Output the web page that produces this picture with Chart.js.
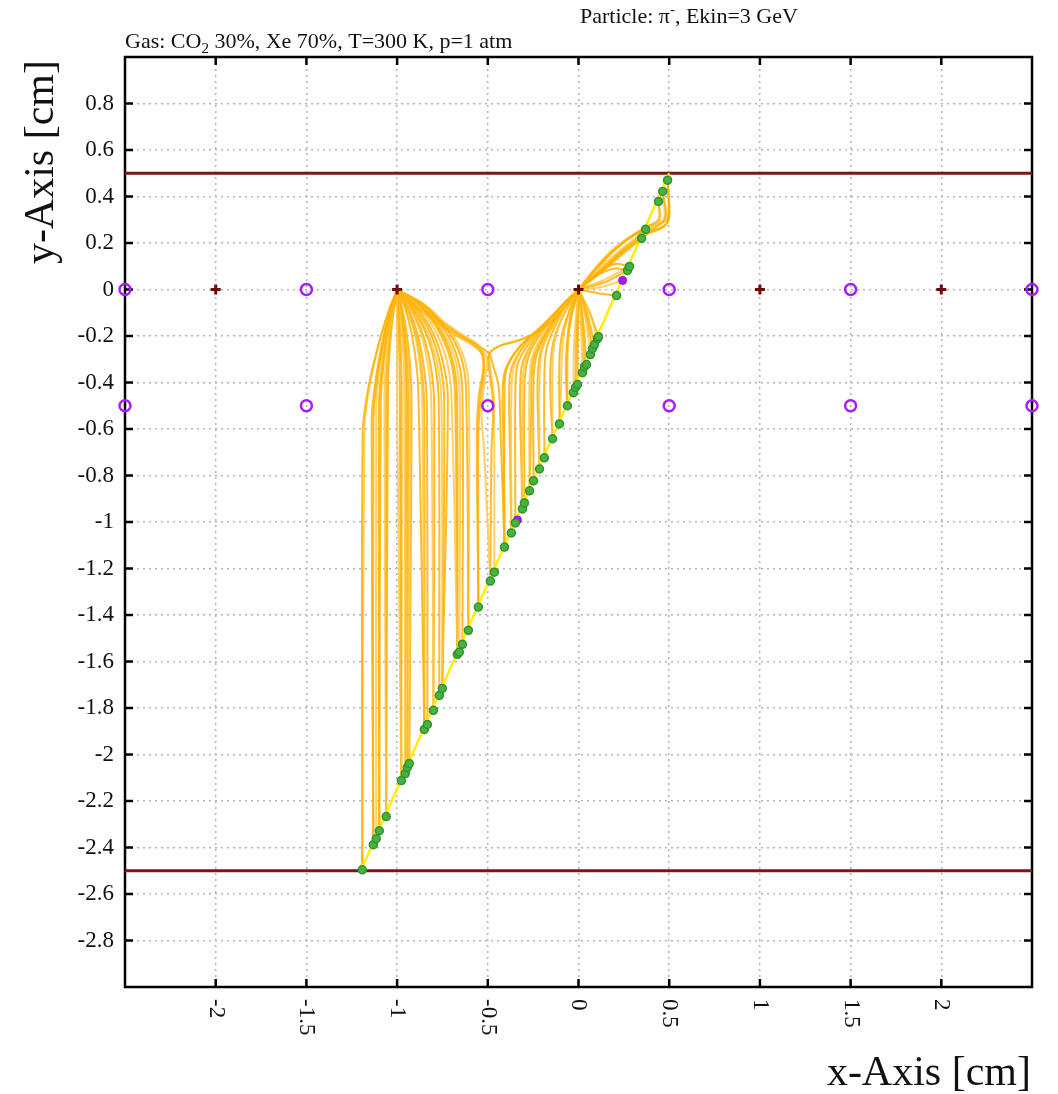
<!DOCTYPE html>
<html>
<head>
<meta charset="utf-8">
<script src="https://cdn.jsdelivr.net/npm/chart.js@4"></script>
<style>
    body { margin: 0; background: #fff; }
    canvas { display: block; }
</style>
</head>
<body>
<canvas id="chart" width="1058" height="1094"></canvas>
<script>

// data

const xTickValues = [-2, -1.5, -1, -0.5, 0, 0.5, 1, 1.5, 2];
const xTickLabels = ['-2', '-1.5', '-1', '-0.5', '0', '0.5', '1', '1.5', '2'];
const yTickValues = [0.8, 0.6, 0.4, 0.2, 0, -0.2, -0.4, -0.6, -0.8, -1, -1.2, -1.4, -1.6, -1.8, -2, -2.2, -2.4, -2.6, -2.8];
const yTickLabels = ['0.8', '0.6', '0.4', '0.2', '0', '-0.2', '-0.4', '-0.6', '-0.8', '-1', '-1.2', '-1.4', '-1.6', '-1.8', '-2', '-2.2', '-2.4', '-2.6', '-2.8'];

// electrodes
const planeY = [0.5, -2.5];
const anodeX = [-2, -1, 0, 1, 2];
const anodeY = [0, 0, 0, 0, 0];
const cathodeX = [-2.5, -1.5, -0.5, 0.5, 1.5, 2.5, -2.5, -1.5, -0.5, 0.5, 1.5, 2.5];
const cathodeY = [0, 0, 0, 0, 0, 0, -0.5, -0.5, -0.5, -0.5, -0.5, -0.5];

// particle track
const trackX = [-1.2, 0.5];
const trackY = [-2.5, 0.5];

// ionisation clusters along the track
const clusterX = [-1.192, -1.131, -1.115, -1.098, -1.06, -0.977, -0.955, -0.944, -0.933, -0.85, -0.833, -0.8, -0.767, -0.751,
    -0.668, -0.657, -0.64, -0.607, -0.552, -0.486, -0.464, -0.408, -0.37, -0.348, -0.309, -0.298, -0.27, -0.248, -0.215,
    -0.188, -0.143, -0.105, -0.061, -0.028, -0.017, -0.006, 0.022, 0.033, 0.044, 0.066, 0.077, 0.088, 0.105, 0.11,
    0.21, 0.27, 0.281, 0.348, 0.37, 0.441, 0.464, 0.491];
const clusterY = [-2.496, -2.388, -2.362, -2.328, -2.267, -2.112, -2.082, -2.056, -2.039, -1.892, -1.871, -1.81, -1.746, -1.716,
    -1.569, -1.56, -1.526, -1.466, -1.366, -1.254, -1.216, -1.108, -1.047, -1.004, -0.944, -0.918, -0.866, -0.823, -0.772,
    -0.724, -0.642, -0.578, -0.5, -0.444, -0.422, -0.409, -0.358, -0.332, -0.323, -0.28, -0.254, -0.237, -0.211, -0.203,
    -0.026, 0.082, 0.099, 0.22, 0.259, 0.379, 0.422, 0.47];
const deltaX = [-0.337, 0.243];
const deltaY = [-0.991, 0.039];

// electron drift lines ending on the wire at x=-1
const driftToWireA = [
    [[-1.192,-2.496],[-1.19,-0.62],[-1.165,-0.45],[-1.13,-0.32],[-1.09,-0.2],[-1.045,-0.09],[-1,0]],
    [[-1.192,-2.496],[-1.18,-0.6],[-1.155,-0.43],[-1.12,-0.3],[-1.08,-0.18],[-1.04,-0.08],[-1,0]],
    [[-1.131,-2.388],[-1.14,-0.56],[-1.12,-0.4],[-1.095,-0.28],[-1.065,-0.17],[-1.03,-0.07],[-1,0]],
    [[-1.131,-2.388],[-1.13,-0.55],[-1.11,-0.38],[-1.085,-0.26],[-1.06,-0.16],[-1.03,-0.07],[-1,0]],
    [[-1.115,-2.362],[-1.115,-0.52],[-1.1,-0.36],[-1.075,-0.24],[-1.05,-0.14],[-1.025,-0.06],[-1,0]],
    [[-1.098,-2.328],[-1.1,-0.5],[-1.085,-0.34],[-1.065,-0.23],[-1.045,-0.13],[-1,0]],
    [[-1.098,-2.328],[-1.09,-0.48],[-1.075,-0.32],[-1.055,-0.2],[-1.03,-0.1],[-1,0]],
    [[-1.06,-2.267],[-1.07,-0.45],[-1.06,-0.3],[-1.04,-0.17],[-1.02,-0.08],[-1,0]],
    [[-1.06,-2.267],[-1.06,-0.42],[-1.05,-0.28],[-1.035,-0.16],[-1,0]],
    [[-1.06,-2.267],[-1.05,-0.4],[-1.04,-0.25],[-1.025,-0.13],[-1,0]],
    [[-0.977,-2.112],[-1.0,-0.5],[-1,0]],
    [[-0.977,-2.112],[-0.985,-0.45],[-0.99,-0.2],[-1,0]],
    [[-0.977,-2.112],[-0.975,-0.45],[-0.98,-0.25],[-0.99,-0.1],[-1,0]],
    [[-0.955,-2.082],[-0.96,-0.45],[-0.965,-0.28],[-0.98,-0.12],[-1,0]],
    [[-0.955,-2.082],[-0.95,-0.45],[-0.955,-0.3],[-0.97,-0.15],[-0.988,-0.05],[-1,0]],
    [[-0.944,-2.056],[-0.94,-0.47],[-0.947,-0.3],[-0.965,-0.15],[-0.985,-0.05],[-1,0]],
    [[-0.933,-2.039],[-0.93,-0.48],[-0.937,-0.32],[-0.955,-0.17],[-0.98,-0.06],[-1,0]],
    [[-0.933,-2.039],[-0.92,-0.5],[-0.928,-0.33],[-0.95,-0.17],[-0.978,-0.06],[-1,0]],
    [[-0.85,-1.892],[-0.88,-0.52],[-0.89,-0.35],[-0.92,-0.19],[-0.96,-0.07],[-1,0]],
    [[-0.85,-1.892],[-0.86,-0.53],[-0.87,-0.36],[-0.9,-0.2],[-0.95,-0.08],[-1,0]],
    [[-0.85,-1.892],[-0.85,-0.53],[-0.862,-0.36],[-0.895,-0.2],[-0.945,-0.08],[-1,0]],
    [[-0.833,-1.871],[-0.835,-0.53],[-0.848,-0.36],[-0.885,-0.2],[-0.94,-0.08],[-1,0]],
    [[-0.8,-1.81],[-0.81,-0.52],[-0.823,-0.36],[-0.865,-0.2],[-0.93,-0.08],[-1,0]],
    [[-0.8,-1.81],[-0.795,-0.52],[-0.81,-0.35],[-0.855,-0.2],[-0.925,-0.08],[-1,0]],
    [[-0.767,-1.746],[-0.77,-0.5],[-0.787,-0.34],[-0.835,-0.2],[-0.915,-0.08],[-1,0]],
    [[-0.751,-1.716],[-0.755,-0.5],[-0.773,-0.34],[-0.825,-0.2],[-0.91,-0.08],[-1,0]],
    [[-0.751,-1.716],[-0.74,-0.49],[-0.76,-0.33],[-0.815,-0.19],[-0.905,-0.075],[-1,0]],
    [[-0.751,-1.716],[-0.72,-0.48],[-0.742,-0.33],[-0.8,-0.19],[-0.895,-0.075],[-1,0]],
    [[-0.668,-1.569],[-0.7,-0.47],[-0.722,-0.32],[-0.785,-0.185],[-0.885,-0.07],[-1,0]],
    [[-0.668,-1.569],[-0.68,-0.46],[-0.703,-0.31],[-0.77,-0.18],[-0.875,-0.07],[-1,0]],
    [[-0.668,-1.569],[-0.67,-0.45],[-0.695,-0.3],[-0.762,-0.175],[-0.87,-0.068],[-1,0]],
    [[-0.657,-1.56],[-0.655,-0.45],[-0.68,-0.3],[-0.752,-0.175],[-0.865,-0.068],[-1,0]],
    [[-0.64,-1.526],[-0.64,-0.44],[-0.667,-0.295],[-0.742,-0.17],[-0.86,-0.066],[-1,0]],
    [[-0.607,-1.466],[-0.62,-0.43],[-0.648,-0.29],[-0.728,-0.168],[-0.855,-0.065],[-1,0]],
    [[-0.607,-1.466],[-0.605,-0.42],[-0.635,-0.285],[-0.72,-0.165],[-0.85,-0.064],[-1,0]],
    [[-0.552,-1.366],[-0.552,-0.62],[-0.54,-0.46],[-0.52,-0.34],[-0.53,-0.27],[-0.58,-0.23],[-0.67,-0.19],[-0.78,-0.13],[-0.9,-0.06],[-1,0]],
    [[-0.552,-1.366],[-0.56,-0.62],[-0.55,-0.46],[-0.525,-0.34],[-0.535,-0.275],[-0.59,-0.235],[-0.68,-0.195],[-0.79,-0.135],[-0.91,-0.065],[-1,0]],
    [[-0.486,-1.254],[-0.52,-0.7],[-0.535,-0.52],[-0.515,-0.38],[-0.505,-0.3],[-0.55,-0.24],[-0.65,-0.19],[-0.77,-0.125],[-0.9,-0.055],[-1,0]],
    [[-0.408,-1.108],[-0.43,-0.6],[-0.44,-0.42],[-0.47,-0.33],[-0.49,-0.28],[-0.535,-0.25],[-0.62,-0.21],[-0.75,-0.14],[-0.89,-0.06],[-1,0]]
];

// electron drift lines ending on the wire at x=0
const driftToWireB = [
    [[-0.486,-1.254],[-0.48,-0.7],[-0.47,-0.5],[-0.49,-0.36],[-0.495,-0.28],[-0.44,-0.245],[-0.33,-0.22],[-0.2,-0.17],[-0.08,-0.08],[0,0]],
    [[-0.464,-1.216],[-0.465,-0.6],[-0.468,-0.45],[-0.485,-0.34],[-0.49,-0.275],[-0.43,-0.24],[-0.32,-0.215],[-0.19,-0.165],[-0.08,-0.075],[0,0]],
    [[-0.408,-1.108],[-0.408,-0.46],[-0.395,-0.34],[-0.32,-0.245],[-0.19,-0.15],[-0.08,-0.06],[0,0]],
    [[-0.408,-1.108],[-0.415,-0.6],[-0.418,-0.46],[-0.405,-0.35],[-0.33,-0.25],[-0.2,-0.155],[-0.085,-0.065],[0,0]],
    [[-0.37,-1.047],[-0.37,-0.45],[-0.355,-0.33],[-0.29,-0.235],[-0.17,-0.14],[-0.07,-0.05],[0,0]],
    [[-0.37,-1.047],[-0.38,-0.6],[-0.382,-0.45],[-0.37,-0.34],[-0.3,-0.24],[-0.18,-0.145],[-0.075,-0.055],[0,0]],
    [[-0.348,-1.004],[-0.348,-0.44],[-0.335,-0.32],[-0.27,-0.23],[-0.16,-0.13],[-0.06,-0.05],[0,0]],
    [[-0.309,-0.944],[-0.309,-0.43],[-0.295,-0.31],[-0.24,-0.22],[-0.14,-0.12],[0,0]],
    [[-0.309,-0.944],[-0.32,-0.6],[-0.322,-0.44],[-0.31,-0.32],[-0.25,-0.225],[-0.145,-0.125],[0,0]],
    [[-0.298,-0.918],[-0.298,-0.42],[-0.28,-0.3],[-0.225,-0.21],[-0.13,-0.11],[0,0]],
    [[-0.27,-0.866],[-0.27,-0.4],[-0.255,-0.29],[-0.2,-0.2],[-0.11,-0.1],[0,0]],
    [[-0.27,-0.866],[-0.26,-0.5],[-0.26,-0.4],[-0.245,-0.29],[-0.19,-0.2],[-0.105,-0.1],[0,0]],
    [[-0.248,-0.823],[-0.248,-0.39],[-0.23,-0.28],[-0.18,-0.19],[-0.1,-0.09],[0,0]],
    [[-0.215,-0.772],[-0.215,-0.37],[-0.2,-0.26],[-0.15,-0.17],[-0.08,-0.08],[0,0]],
    [[-0.215,-0.772],[-0.225,-0.5],[-0.225,-0.38],[-0.21,-0.27],[-0.16,-0.18],[-0.085,-0.085],[0,0]],
    [[-0.188,-0.724],[-0.188,-0.36],[-0.175,-0.25],[-0.13,-0.16],[-0.07,-0.07],[0,0]],
    [[-0.143,-0.642],[-0.143,-0.33],[-0.13,-0.22],[-0.09,-0.12],[0,0]],
    [[-0.143,-0.642],[-0.155,-0.45],[-0.155,-0.34],[-0.14,-0.23],[-0.095,-0.13],[0,0]],
    [[-0.105,-0.578],[-0.105,-0.3],[-0.09,-0.19],[-0.05,-0.09],[0,0]],
    [[-0.105,-0.578],[-0.095,-0.4],[-0.092,-0.3],[-0.078,-0.18],[-0.043,-0.085],[0,0]],
    [[-0.061,-0.5],[-0.06,-0.27],[-0.045,-0.14],[0,0]],
    [[-0.061,-0.5],[-0.07,-0.35],[-0.065,-0.25],[-0.048,-0.13],[0,0]],
    [[-0.028,-0.444],[-0.025,-0.24],[-0.012,-0.1],[0,0]],
    [[-0.017,-0.422],[-0.012,-0.2],[0,0]],
    [[-0.006,-0.409],[-0.004,-0.2],[0,0]],
    [[0.022,-0.358],[0.015,-0.18],[0,0]],
    [[0.033,-0.332],[0.022,-0.16],[0,0]],
    [[0.044,-0.323],[0.028,-0.15],[0,0]],
    [[0.066,-0.28],[0.04,-0.13],[0,0]],
    [[0.077,-0.254],[0.045,-0.12],[0,0]],
    [[0.088,-0.237],[0.05,-0.11],[0,0]],
    [[0.105,-0.211],[0.06,-0.1],[0,0]],
    [[0.11,-0.203],[0.06,-0.095],[0,0]],
    [[0.21,-0.026],[0.1,-0.015],[0,0]],
    [[0.243,0.039],[0.12,0.01],[0,0]],
    [[0.27,0.082],[0.14,0.03],[0,0]],
    [[0.27,0.082],[0.2,0.09],[0.1,0.06],[0,0]],
    [[0.281,0.099],[0.15,0.045],[0,0]],
    [[0.281,0.099],[0.2,0.11],[0.1,0.07],[0,0]],
    [[0.348,0.22],[0.24,0.15],[0.12,0.07],[0,0]],
    [[0.348,0.22],[0.3,0.21],[0.2,0.15],[0.1,0.08],[0,0]],
    [[0.37,0.259],[0.26,0.18],[0.13,0.085],[0,0]],
    [[0.37,0.259],[0.3,0.23],[0.2,0.17],[0.1,0.09],[0,0]],
    [[0.441,0.379],[0.45,0.3],[0.38,0.25],[0.25,0.175],[0.12,0.085],[0,0]],
    [[0.441,0.379],[0.44,0.3],[0.36,0.265],[0.24,0.2],[0.12,0.11],[0,0]],
    [[0.464,0.422],[0.48,0.31],[0.42,0.265],[0.28,0.19],[0.13,0.09],[0,0]],
    [[0.464,0.422],[0.47,0.3],[0.4,0.275],[0.27,0.215],[0.13,0.12],[0,0]],
    [[0.491,0.47],[0.5,0.33],[0.485,0.28],[0.4,0.25],[0.27,0.18],[0.12,0.08],[0,0]],
    [[0.491,0.47],[0.495,0.32],[0.47,0.27],[0.37,0.235],[0.24,0.16],[0.11,0.07],[0,0]],
    [[0.491,0.47],[0.5,0.31],[0.46,0.285],[0.34,0.25],[0.2,0.18],[0.1,0.1],[0,0]]
];

// style

const serif = '"Liberation Serif", "DejaVu Serif", serif';

const toPoints = (xs, ys) => xs.map((x, i) => ({x, y: ys[i]}));

// datasets

function buildDatasets(){
    let drift = driftToWireA.concat(driftToWireB).map((path, i) => ({
        data: path.map(([x, y]) => ({x, y})),
        showLine: true,
        pointRadius: 0,
        borderColor: i % 3 === 1 ? 'rgba(255,196,60,0.8)' : 'rgba(255,176,0,0.85)',
        borderWidth: 2,
        tension: 0.35,
        order: 5
    }));

    let planes = planeY.map(y => ({
        data: [{x: -2.5, y}, {x: 2.5, y}],
        showLine: true,
        pointRadius: 0,
        borderColor: '#7d1515',
        borderWidth: 3,
        order: 6
    }));

    return [
        ...planes,
        ...drift,
        {
            data: toPoints(trackX, trackY),
            showLine: true,
            pointRadius: 0,
            borderColor: '#ffee00',
            borderWidth: 2.5,
            order: 4
        },
        {
            data: toPoints(anodeX, anodeY),
            pointStyle: 'cross',
            pointRadius: 5,
            borderColor: '#6e0a0a',
            borderWidth: 3,
            clip: false,
            order: 2
        },
        {
            data: toPoints(cathodeX, cathodeY),
            pointStyle: 'circle',
            pointRadius: 5.5,
            borderColor: '#a81cff',
            backgroundColor: 'rgba(0,0,0,0)',
            borderWidth: 2.5,
            clip: false,
            order: 2
        },
        {
            data: toPoints(clusterX, clusterY),
            pointRadius: 4,
            backgroundColor: '#47b240',
            borderColor: '#2f9430',
            borderWidth: 1.5,
            order: 1
        },
        {
            data: toPoints(deltaX, deltaY),
            pointRadius: 4,
            backgroundColor: '#9a1ff0',
            borderColor: '#8a10e0',
            borderWidth: 1,
            order: 1
        }
    ];
}

// frame, inward ticks, rotated x labels and titles

const framePlugin = {
    id: 'frame',
    beforeDatasetsDraw(chart){
        const {ctx, chartArea: a, scales} = chart;
        ctx.save();
        ctx.strokeStyle = '#000';
        ctx.lineWidth = 2.5;
        ctx.beginPath();
        xTickValues.forEach(v => {
            let px = scales.x.getPixelForValue(v);
            ctx.moveTo(px, a.bottom); ctx.lineTo(px, a.bottom - 8);
            ctx.moveTo(px, a.top); ctx.lineTo(px, a.top + 8);
        });
        yTickValues.forEach(v => {
            let py = scales.y.getPixelForValue(v);
            ctx.moveTo(a.left, py); ctx.lineTo(a.left + 8, py);
            ctx.moveTo(a.right, py); ctx.lineTo(a.right - 8, py);
        });
        ctx.stroke();
        ctx.strokeRect(a.left, a.top, a.right - a.left, a.bottom - a.top);
        ctx.restore();
    },
    afterDraw(chart){
        const {ctx, chartArea: a, scales} = chart;
        ctx.save();
        ctx.fillStyle = '#111';

        // x tick labels, turned clockwise
        ctx.font = '23px ' + serif;
        ctx.textAlign = 'left';
        ctx.textBaseline = 'middle';
        xTickValues.forEach((v, i) => {
            ctx.save();
            ctx.translate(scales.x.getPixelForValue(v), a.bottom + 12);
            ctx.rotate(Math.PI / 2);
            ctx.fillText(xTickLabels[i], 0, 0);
            ctx.restore();
        });

        // axis titles
        ctx.textBaseline = 'alphabetic';
        ctx.font = '42px ' + serif;
        ctx.textAlign = 'right';
        ctx.fillText('x-Axis [cm]', 1031, 1085);
        ctx.save();
        ctx.translate(53, 60);
        ctx.rotate(-Math.PI / 2);
        ctx.fillText('y-Axis [cm]', 0, 0);
        ctx.restore();

        // header lines
        ctx.textAlign = 'left';
        ctx.font = '22px ' + serif;
        let x = 125, y = 48;
        ctx.fillText('Gas: CO', x, y);
        x += ctx.measureText('Gas: CO').width;
        ctx.font = '15px ' + serif;
        ctx.fillText('2', x, y + 5);
        x += ctx.measureText('2').width;
        ctx.font = '22px ' + serif;
        ctx.fillText(' 30%, Xe 70%, T=300 K, p=1 atm', x, y);

        x = 580; y = 23;
        ctx.fillText('Particle: \u03c0', x, y);
        x += ctx.measureText('Particle: \u03c0').width;
        ctx.font = '15px ' + serif;
        ctx.fillText('-', x, y - 9);
        x += ctx.measureText('-').width;
        ctx.font = '22px ' + serif;
        ctx.fillText(', Ekin=3 GeV', x, y);
        ctx.restore();
    }
};

// render

function render(){
    new Chart('chart', {
        type: 'scatter',
        data: {datasets: buildDatasets()},
        options: {
            responsive: false,
            devicePixelRatio: 1,
            animation: false,
            events: [],
            layout: {padding: {top: 57, right: 26, left: 0, bottom: 0}},
            plugins: {legend: {display: false}, tooltip: {enabled: false}},
            scales: {
                x: {
                    type: 'linear',
                    min: -2.5,
                    max: 2.5,
                    afterBuildTicks: s => { s.ticks = xTickValues.map(value => ({value})); },
                    afterFit: s => { s.height = 107; },
                    ticks: {display: false},
                    grid: {color: '#b4b4b4', lineWidth: 1.5, drawTicks: false},
                    border: {display: false, dash: [2, 4]}
                },
                y: {
                    type: 'linear',
                    min: -3,
                    max: 1,
                    afterBuildTicks: s => { s.ticks = yTickValues.map(value => ({value})); },
                    afterFit: s => { s.width = 125; },
                    ticks: {
                        callback: (v, i) => yTickLabels[i],
                        font: {family: serif, size: 23},
                        color: '#111',
                        padding: 11
                    },
                    grid: {color: '#b4b4b4', lineWidth: 1.5, drawTicks: false},
                    border: {display: false, dash: [2, 4]}
                }
            }
        },
        plugins: [framePlugin]
    });
}

document.addEventListener('DOMContentLoaded', render);
</script>
</body>
</html>
